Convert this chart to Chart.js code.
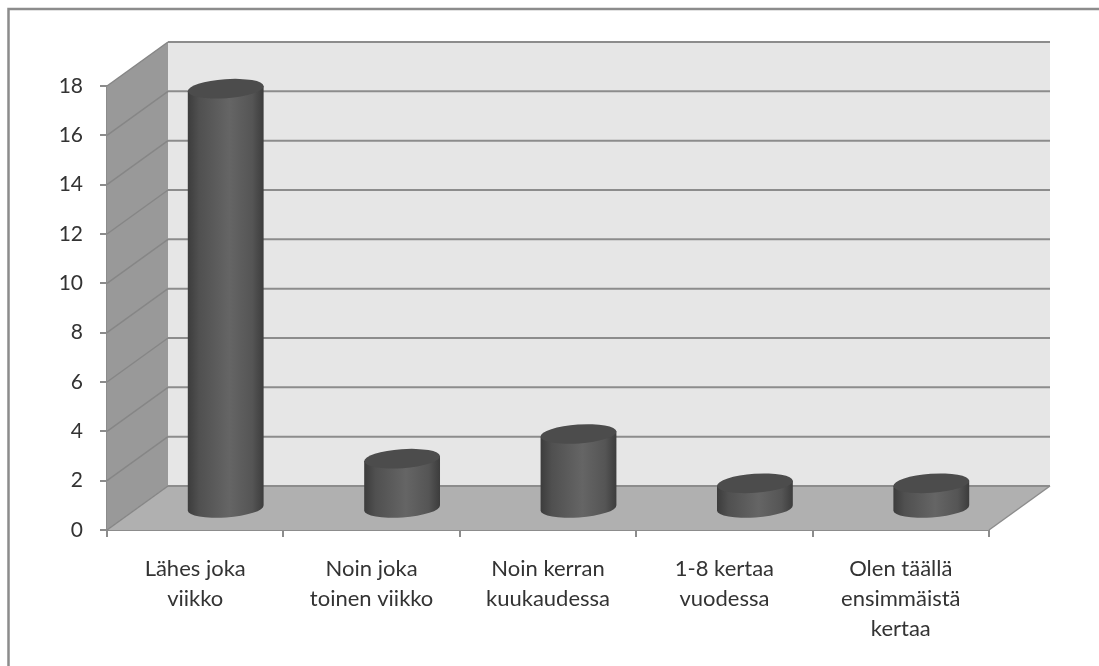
<!DOCTYPE html>
<html>
<head>
<meta charset="utf-8">
<style>
  html, body { margin: 0; padding: 0; background: #fff; overflow: hidden; }
  #wrap { position: absolute; left: 0; top: 0; width: 1099px; height: 666px; }
  canvas { filter: blur(0.4px); }
</style>
<script src="https://cdn.jsdelivr.net/npm/chart.js@4/dist/chart.umd.min.js"></script>
</head>
<body>
<div id="wrap"><canvas id="bar-chart" width="1099" height="666"></canvas></div>
<script>
"use strict";
var categories = [
    ["Lähes joka", "viikko"],
    ["Noin joka", "toinen viikko"],
    ["Noin kerran", "kuukaudessa"],
    ["1-8 kertaa", "vuodessa"],
    ["Olen täällä", "ensimmäistä", "kertaa"]
];
var answers = [17, 2, 3, 1, 1];

// 3d look: the back wall is pushed this far from the front axes
var depthX = 61, depthY = -44;

function poly(ctx, pts, fill) {
    ctx.beginPath();
    pts.forEach(function (p, i) { i ? ctx.lineTo(p[0], p[1]) : ctx.moveTo(p[0], p[1]); });
    ctx.closePath();
    ctx.fillStyle = fill;
    ctx.fill();
}

var walls = {
    id: "walls",
    beforeDatasetsDraw: function (chart) {
        var ctx = chart.ctx, a = chart.chartArea, y = chart.scales.y;
        var l = a.left, r = a.right, t = a.top, b = a.bottom;
        ctx.save();
        // frame, only top and left are in the picture
        ctx.strokeStyle = "#8c8c8c";
        ctx.lineWidth = 2.5;
        ctx.beginPath();
        ctx.moveTo(8.5, 666);
        ctx.lineTo(8.5, 9);
        ctx.lineTo(1099, 9);
        ctx.stroke();
        // back wall, side wall, floor
        poly(ctx, [[l + depthX, t + depthY], [r + depthX, t + depthY], [r + depthX, b + depthY], [l + depthX, b + depthY]], "#e6e6e6");
        poly(ctx, [[l, b], [l, t], [l + depthX, t + depthY], [l + depthX, b + depthY]], "#999999");
        poly(ctx, [[l, b], [l + depthX, b + depthY], [r + depthX, b + depthY], [r, b]], "#b0b0b0");
        // grid lines run up the side wall then across the back
        y.ticks.forEach(function (tk) {
            var py = y.getPixelForValue(tk.value);
            ctx.beginPath();
            ctx.moveTo(l, py);
            ctx.lineTo(l + depthX, py + depthY);
            ctx.strokeStyle = "#868686";
            ctx.lineWidth = 1.5;
            ctx.stroke();
            ctx.beginPath();
            ctx.moveTo(l + depthX, py + depthY);
            ctx.lineTo(r + depthX, py + depthY);
            ctx.strokeStyle = "#8c8c8c";
            ctx.lineWidth = 2;
            ctx.stroke();
        });
        // floor right edge
        ctx.beginPath();
        ctx.moveTo(r, b);
        ctx.lineTo(r + depthX, b + depthY);
        ctx.strokeStyle = "#8c8c8c";
        ctx.lineWidth = 1.5;
        ctx.stroke();
        ctx.restore();
    },
    afterDatasetsDraw: function (chart) {
        var ctx = chart.ctx;
        var rx = 38, ry = 9.5, tilt = -0.07;
        chart.getDatasetMeta(0).data.forEach(function (bar) {
            var cx = bar.x + depthX / 2;
            var top = bar.y + depthY / 2;
            var bottom = bar.base + depthY / 2 + 1;
            var dx = rx * Math.cos(tilt), dy = rx * Math.sin(tilt);
            var g = ctx.createLinearGradient(cx - rx, 0, cx + rx, 0);
            g.addColorStop(0, "#3c3c3c");
            g.addColorStop(0.15, "#505050");
            g.addColorStop(0.55, "#656565");
            g.addColorStop(0.85, "#555555");
            g.addColorStop(1, "#3c3c3c");
            ctx.save();
            ctx.beginPath();
            ctx.moveTo(cx - dx, top - dy);
            ctx.lineTo(cx + dx, top + dy);
            ctx.lineTo(cx + dx, bottom + dy);
            ctx.ellipse(cx, bottom, rx, ry, tilt, 0, Math.PI);
            ctx.closePath();
            ctx.fillStyle = g;
            ctx.fill();
            ctx.beginPath();
            ctx.ellipse(cx, top, rx, ry, tilt, 0, Math.PI * 2);
            ctx.fillStyle = "#4c4c4c";
            ctx.fill();
            ctx.restore();
        });
    }
};

new Chart(document.getElementById("bar-chart"), {
    type: "bar",
    data: {
        labels: categories,
        datasets: [{
            data: answers,
            backgroundColor: "rgba(0,0,0,0)",
            categoryPercentage: 0.42,
            barPercentage: 1
        }]
    },
    plugins: [walls],
    options: {
        responsive: false,
        animation: false,
        layout: { padding: { top: 86, right: 110, left: 0, bottom: 0 } },
        plugins: { legend: { display: false }, tooltip: { enabled: false } },
        scales: {
            x: {
                afterFit: function (s) { s.height = 136; },
                border: { color: "#8c8c8c", width: 2 },
                grid: { drawOnChartArea: false, color: "#8c8c8c", tickLength: 7, lineWidth: 2 },
                ticks: { color: "#333333", font: { family: "Lato", size: 22, lineHeight: 1.36 }, padding: 17, maxRotation: 0, autoSkip: false }
            },
            y: {
                min: 0,
                max: 18,
                afterFit: function (s) { s.width = 107; },
                border: { color: "#8c8c8c", width: 2 },
                grid: { drawOnChartArea: false, color: "#8c8c8c", tickLength: 7, lineWidth: 2 },
                ticks: { stepSize: 2, color: "#333333", font: { family: "Lato", size: 21 }, padding: 17 }
            }
        }
    }
});
</script>
</body>
</html>
